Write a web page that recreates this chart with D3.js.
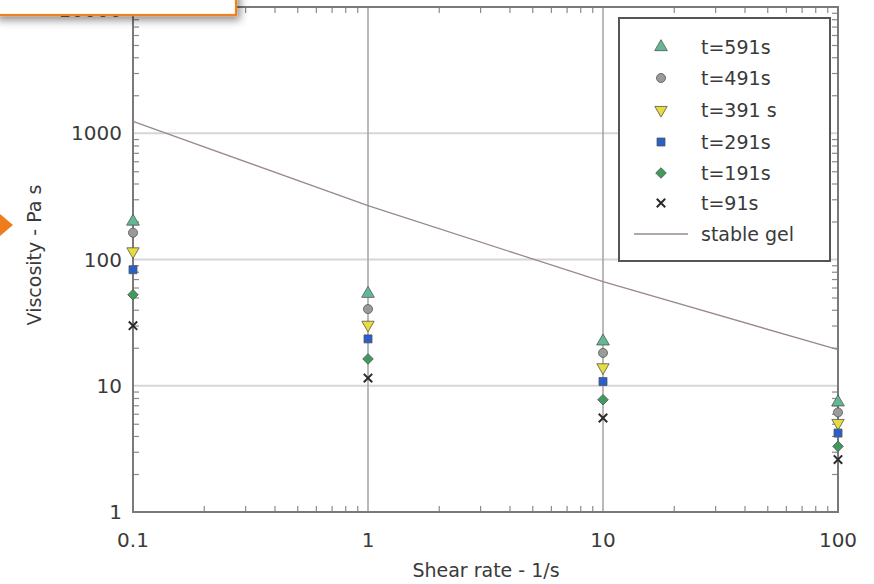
<!DOCTYPE html>
<html><head><meta charset="utf-8">
<script src="https://cdn.jsdelivr.net/npm/d3@7"></script>
<style>body{margin:0;background:#fff}svg{display:block}text{font-family:"DejaVu Sans",sans-serif;fill:#3a3a3a}</style>
</head><body><svg id="c" width="874" height="584"></svg>
<script>
const shearRates = [0.1, 1, 10, 100];
const seriesNames = ["t=591s", "t=491s", "t=391 s", "t=291s", "t=191s", "t=91s"];
const t591 = [200, 53.6, 22.5, 7.4];
const t491 = [163, 40.5, 18.2, 6.15];
const t391 = [116, 30.4, 14.0, 5.07];
const t291 = [83, 23.5, 10.8, 4.22];
const t191 = [52.6, 16.3, 7.75, 3.31];
const t91 = [29.9, 11.5, 5.55, 2.6];
const stableGel = [1242, 267, 66.7, 19.3];
const xTickLabels = ["0.1", "1", "10", "100"];
const yTickLabels = ["1", "10", "100", "1000", "10000"];

const svg = d3.select("#c");
const L = 133, R = 838, T = 7, B = 512;
const x = d3.scaleLog().domain([0.1, 100]).range([L, R]);
const y = d3.scaleLog().domain([1, 10000]).range([B, T]);

// gridlines
const g = svg.append("g");
[10, 100, 1000].forEach(v => g.append("line").attr("x1", L).attr("x2", R).attr("y1", y(v)).attr("y2", y(v))
  .attr("stroke", "#d6d6d6").attr("stroke-width", 2));
[1, 10].forEach(v => g.append("line").attr("x1", x(v)).attr("x2", x(v)).attr("y1", T).attr("y2", B)
  .attr("stroke", "#a8a8a8").attr("stroke-width", 1.6));

// minor ticks via axes
const xMinor = [], yMinor = [];
for (let e = -1; e < 2; e++) for (let m = 2; m <= 9; m++) xMinor.push(m * Math.pow(10, e));
for (let e = 0; e < 4; e++) for (let m = 2; m <= 9; m++) yMinor.push(m * Math.pow(10, e));
const tickStyle = sel => { sel.select(".domain").remove(); sel.selectAll("line").attr("stroke", "#8a8a8a").attr("stroke-width", 1.2); sel.selectAll("text").remove(); };
svg.append("g").attr("transform", `translate(0,${B})`).call(d3.axisBottom(x).tickValues(xMinor).tickSize(-6)).call(tickStyle);
svg.append("g").attr("transform", `translate(0,${T})`).call(d3.axisTop(x).tickValues(xMinor).tickSize(-6)).call(tickStyle);
svg.append("g").attr("transform", `translate(${L},0)`).call(d3.axisLeft(y).tickValues(yMinor).tickSize(-6)).call(tickStyle);
svg.append("g").attr("transform", `translate(${R},0)`).call(d3.axisRight(y).tickValues(yMinor).tickSize(-6)).call(tickStyle);

// frame
svg.append("rect").attr("x", L).attr("y", T).attr("width", R - L).attr("height", B - T)
  .attr("fill", "none").attr("stroke", "#7a7a7a").attr("stroke-width", 2);

// tick labels
const xVals = xTickLabels.map(Number), yVals = yTickLabels.map(Number);
svg.append("g").selectAll("text").data(xTickLabels).join("text")
  .attr("x", (d, i) => x(xVals[i])).attr("y", 547).attr("text-anchor", "middle")
  .attr("font-size", 20).text(d => d);
svg.append("g").selectAll("text").data(yTickLabels).join("text")
  .attr("x", 122).attr("y", (d, i) => Math.max(y(yVals[i]) + 7, 17)).attr("text-anchor", "end")
  .attr("font-size", 20).text(d => d);

// axis titles
svg.append("text").attr("x", 486).attr("y", 577).attr("text-anchor", "middle").attr("font-size", 19)
  .text("Shear rate - 1/s");
svg.append("text").attr("transform", "translate(41,255) rotate(-90)").attr("text-anchor", "middle").attr("font-size", 19)
  .text("Viscosity - Pa s");

// stable gel line
const lineGen = d3.line().x((d, i) => x(shearRates[i])).y(d => y(d));
svg.append("path").datum(stableGel).attr("d", lineGen).attr("fill", "none")
  .attr("stroke", "#9a8890").attr("stroke-width", 1.3);

// markers
const allSeries = [t591, t491, t391, t291, t191, t91];
const fills = ["#63b894", "#9a9a9a", "#e6dc3c", "#2a5fcc", "#3f9a5e", "#333"];
const symbols = [d3.symbolTriangle, d3.symbolCircle, d3.symbolTriangle, d3.symbolSquare, d3.symbolSquare, d3.symbolX];
const sizes = [70, 64, 66, 64, 56, 48];
const rot = [0, 0, 180, 0, 45, 0];
function drawSym(sel, i) {
  sel.attr("d", d3.symbol().type(symbols[i]).size(sizes[i])())
    .attr("fill", i === 5 ? "none" : fills[i])
    .attr("stroke", i === 5 ? "#2a2a2a" : "#555")
    .attr("stroke-width", i === 5 ? 2 : 0.8);
}
allSeries.forEach((s, i) => {
  svg.append("g").selectAll("path").data(s).join("path")
    .attr("transform", (d, j) => `translate(${x(shearRates[j])},${y(d)}) rotate(${rot[i]})`)
    .each(function () { drawSym(d3.select(this), i); });
});

// legend
const lg = svg.append("g");
lg.append("rect").attr("x", 619).attr("y", 18).attr("width", 211).attr("height", 243)
  .attr("fill", "#fff").attr("stroke", "#555").attr("stroke-width", 2);
const rowY = [47, 78, 110, 142, 173, 203];
seriesNames.forEach((n, i) => {
  lg.append("path").attr("transform", `translate(661,${rowY[i]}) rotate(${rot[i]})`).call(s => drawSym(s, i));
  lg.append("text").attr("x", 701).attr("y", rowY[i] + 7).attr("font-size", 19).text(n);
});
lg.append("line").attr("x1", 634).attr("x2", 688).attr("y1", 234).attr("y2", 234).attr("stroke", "#9a8890").attr("stroke-width", 1.3);
lg.append("text").attr("x", 701).attr("y", 241).attr("font-size", 19).text("stable gel");

// orange callout box at top-left with shadow
const defs = svg.append("defs");
const f = defs.append("filter").attr("id", "sh").attr("x", "-20%").attr("y", "-50%").attr("width", "140%").attr("height", "300%");
f.append("feDropShadow").attr("dx", 3).attr("dy", 4).attr("stdDeviation", 4).attr("flood-color", "#000").attr("flood-opacity", 0.45);
svg.append("rect").attr("x", -5).attr("y", -10).attr("width", 241).attr("height", 25)
  .attr("fill", "#fff").attr("stroke", "#f08020").attr("stroke-width", 2.2).attr("filter", "url(#sh)");
// orange arrow at left
svg.append("path").attr("d", "M0,214 L13,225 L0,236 Z").attr("fill", "#ee7b1c");
</script></body></html>
